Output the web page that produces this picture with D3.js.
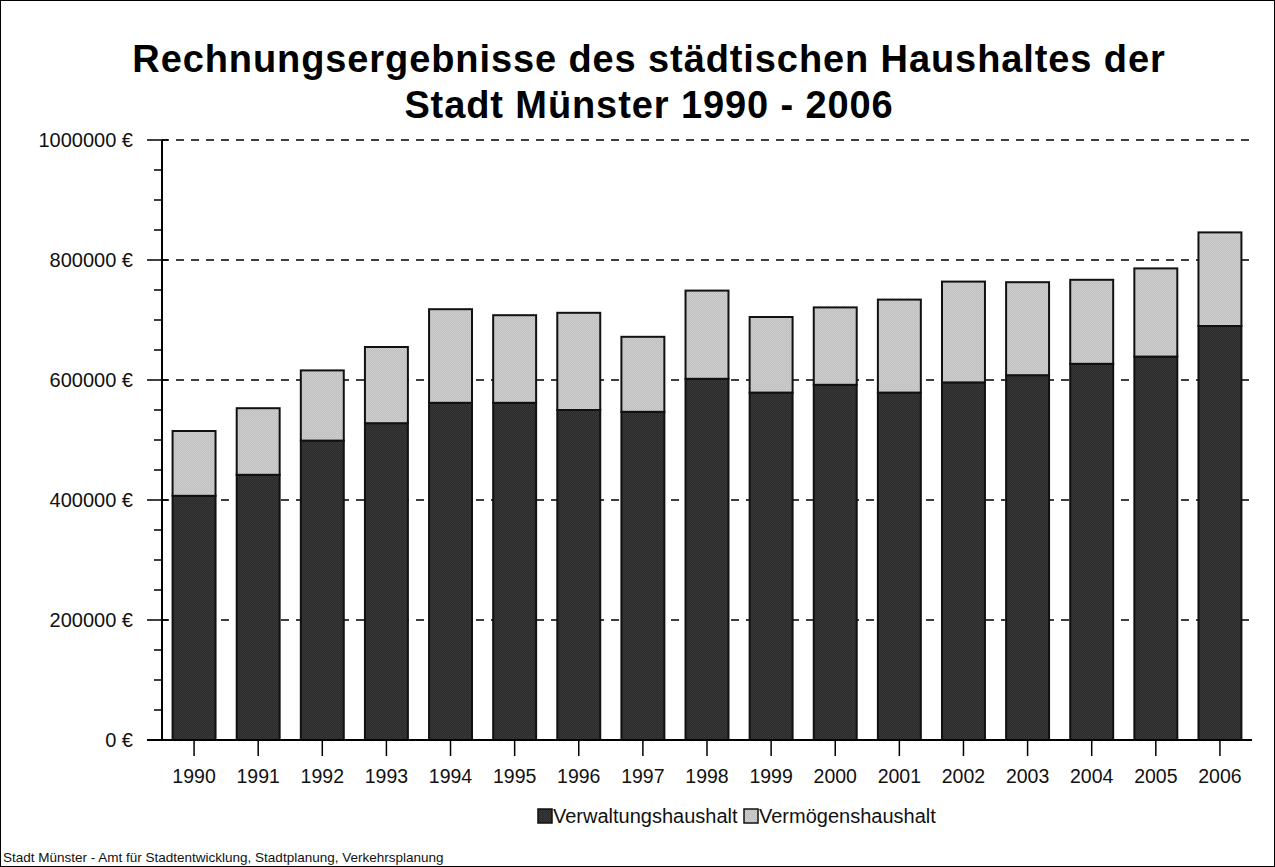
<!DOCTYPE html>
<html>
<head>
<meta charset="utf-8">
<script src="https://cdn.jsdelivr.net/npm/d3@7"></script>
<style>
  html, body { margin: 0; padding: 0; background: #fff; }
  svg { display: block; font-family: Arial, "Liberation Sans", sans-serif; }
</style>
</head>
<body>
<script>
// Werte (Euro)
const years = ['1990', '1991', '1992', '1993', '1994', '1995', '1996', '1997', '1998',
    '1999', '2000', '2001', '2002', '2003', '2004', '2005', '2006'];
const verwaltung = [407000, 442000, 499000, 528000, 562000, 562000, 550000, 547000, 602000,
    579000, 592000, 579000, 596000, 608000, 627000, 639000, 690000];
const vermoegen = [108000, 111000, 117000, 127000, 156000, 146000, 162000, 125000, 147000,
    126000, 129000, 155000, 168000, 155000, 140000, 147000, 156000];
const seriesNames = ['Verwaltungshaushalt', 'Vermögenshaushalt'];
const yTicks = [0, 200000, 400000, 600000, 800000, 1000000];
const titleLines = ['Rechnungsergebnisse des städtischen Haushaltes der', 'Stadt Münster 1990 - 2006'];
const footer = 'Stadt Münster - Amt für Stadtentwicklung, Stadtplanung, Verkehrsplanung';

const width = 1275;
const height = 867;
const margin = { top: 140, right: 23, bottom: 127, left: 162 };

const rows = years.map((y, i) => ({ year: y, Verwaltungshaushalt: verwaltung[i], 'Vermögenshaushalt': vermoegen[i] }));
const stacked = d3.stack().keys(seriesNames)(rows);

const svg = d3.select('body').append('svg')
    .attr('width', width)
    .attr('height', height);

// Schraffur-Muster
const defs = svg.append('defs');
const patterns = [
    { id: 'pDark', a: '#282828', b: '#3a3a3a' },
    { id: 'pLight', a: '#bebebe', b: '#cfcfcf' }
];
patterns.forEach(p => {
    const pat = defs.append('pattern')
        .attr('id', p.id)
        .attr('width', 2).attr('height', 2)
        .attr('patternUnits', 'userSpaceOnUse');
    pat.append('rect').attr('width', 2).attr('height', 2).attr('fill', p.a);
    pat.append('rect').attr('width', 1).attr('height', 1).attr('fill', p.b);
    pat.append('rect').attr('x', 1).attr('y', 1).attr('width', 1).attr('height', 1).attr('fill', p.b);
});
const fills = ['url(#pDark)', 'url(#pLight)'];

svg.append('rect')
    .attr('x', 0.5).attr('y', 0.5)
    .attr('width', width - 1).attr('height', height - 1)
    .attr('fill', '#fff')
    .attr('stroke', '#000');

const x = d3.scaleBand()
    .domain(years)
    .range([margin.left, width - margin.right])
    .paddingInner(0.33)
    .paddingOuter(0.165);

const y = d3.scaleLinear()
    .domain([0, 1000000])
    .range([height - margin.bottom, margin.top]);

// Gitterlinien
svg.append('g')
    .selectAll('line')
    .data(yTicks.filter(d => d > 0))
    .join('line')
    .attr('x1', margin.left)
    .attr('x2', width - margin.right)
    .attr('y1', d => y(d))
    .attr('y2', d => y(d))
    .attr('stroke', '#000')
    .attr('stroke-width', 1.5)
    .attr('stroke-dasharray', '8,7')
    .attr('stroke-dashoffset', -14);

// Balken
svg.append('g')
    .selectAll('g')
    .data(stacked)
    .join('g')
    .attr('fill', (d, i) => fills[i])
    .selectAll('rect')
    .data(d => d)
    .join('rect')
    .attr('x', d => x(d.data.year))
    .attr('y', d => y(d[1]))
    .attr('width', x.bandwidth())
    .attr('height', d => y(d[0]) - y(d[1]))
    .attr('stroke', '#111')
    .attr('stroke-width', 2);

// Y-Achse
const yAxis = svg.append('g')
    .attr('transform', `translate(${margin.left},0)`);
yAxis.append('line')
    .attr('x1', 0).attr('x2', 0)
    .attr('y1', y(0)).attr('y2', y(1000000))
    .attr('stroke', '#000').attr('stroke-width', 2);
yAxis.append('g')
    .selectAll('line')
    .data(d3.range(0, 1000001, 50000))
    .join('line')
    .attr('x1', d => d % 200000 === 0 ? -15 : -8)
    .attr('x2', d => d % 200000 === 0 ? 6 : 0)
    .attr('y1', d => y(d))
    .attr('y2', d => y(d))
    .attr('stroke', '#000')
    .attr('stroke-width', 1.5);
yAxis.append('g')
    .selectAll('text')
    .data(yTicks)
    .join('text')
    .attr('x', -29)
    .attr('y', d => y(d))
    .attr('dy', '0.36em')
    .attr('text-anchor', 'end')
    .attr('font-size', 20)
    .attr('fill', '#111')
    .text(d => d + ' €');

// X-Achse
const xAxis = svg.append('g')
    .attr('transform', `translate(0,${y(0)})`);
xAxis.append('line')
    .attr('x1', margin.left - 15).attr('x2', width - margin.right)
    .attr('stroke', '#000').attr('stroke-width', 2);
xAxis.append('g')
    .selectAll('line')
    .data(years)
    .join('line')
    .attr('x1', d => x(d) + x.bandwidth() / 2)
    .attr('x2', d => x(d) + x.bandwidth() / 2)
    .attr('y1', 0).attr('y2', 16)
    .attr('stroke', '#000').attr('stroke-width', 1.5);
xAxis.append('g')
    .selectAll('text')
    .data(years)
    .join('text')
    .attr('x', d => x(d) + x.bandwidth() / 2)
    .attr('y', 43)
    .attr('text-anchor', 'middle')
    .attr('font-size', 19.5)
    .attr('fill', '#111')
    .text(d => d);

// Titel
svg.append('g')
    .selectAll('text')
    .data(titleLines)
    .join('text')
    .attr('x', 649)
    .attr('y', (d, i) => 72 + i * 46)
    .attr('text-anchor', 'middle')
    .attr('font-size', 38)
    .attr('font-weight', 'bold')
    .attr('letter-spacing', 0.9)
    .attr('fill', '#000')
    .text(d => d);

// Legende
const legend = svg.append('g').attr('transform', 'translate(0,816)');
const legendX = [538, 744];
seriesNames.forEach((name, i) => {
    legend.append('rect')
        .attr('x', legendX[i]).attr('y', -7)
        .attr('width', 14).attr('height', 14)
        .attr('fill', fills[i])
        .attr('stroke', '#111').attr('stroke-width', 1.5);
    legend.append('text')
        .attr('x', legendX[i] + 15)
        .attr('y', 0)
        .attr('dy', '0.36em')
        .attr('font-size', 20)
        .attr('fill', '#111')
        .text(name);
});

// Quelle
svg.append('text')
    .attr('x', 3)
    .attr('y', 862)
    .attr('font-size', 13.5)
    .attr('fill', '#111')
    .text(footer);
</script>
</body>
</html>
